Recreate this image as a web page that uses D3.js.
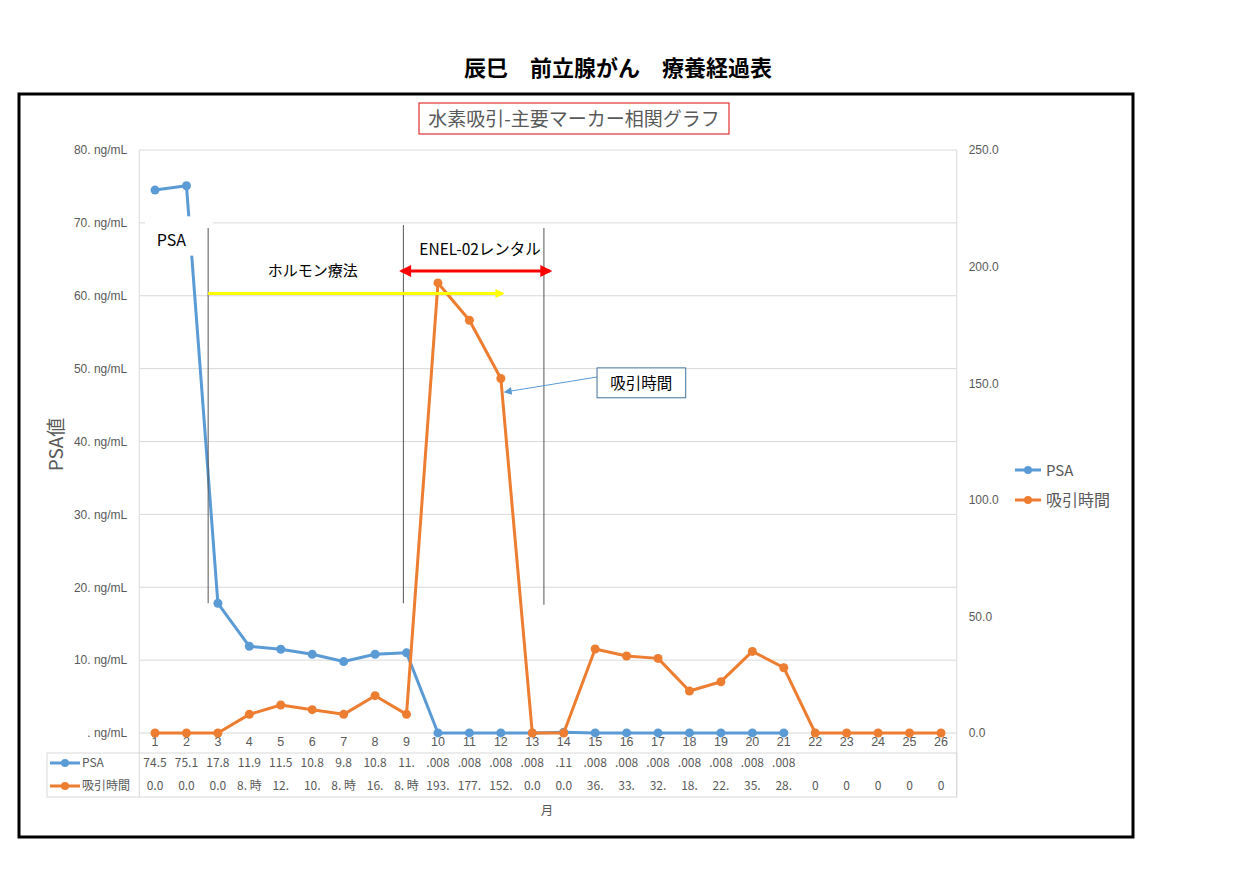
<!DOCTYPE html>
<html lang="ja">
<head>
  <meta charset="UTF-8">
  <title>辰巳 前立腺がん 療養経過表</title>
  <style>
    html, body {
      margin: 0;
      overflow: hidden;
      width: 100%;
      height: 100%;
      background: white;
    }
    svg {
      position: absolute;
      top: 0;
      left: 0;
      font-family: "Noto Sans CJK JP", "Noto Sans", sans-serif;
    }
  </style>
</head>
<body>
  <svg width="1240" height="877"></svg>
</body>
<script src="https://d3js.org/d3.v7.min.js"></script>
<script type="text/javascript">
  // data
  const months = d3.range(1, 27).map(String)
  const psa = [74.5, 75.1, 17.8, 11.9, 11.5, 10.8, 9.8, 10.8, 11.0, 0.008, 0.008, 0.008, 0.008, 0.11,
    0.008, 0.008, 0.008, 0.008, 0.008, 0.008, 0.008, null, null, null, null, null]
  const inhale = [0, 0, 0, 8, 12, 10, 8, 16, 8, 193, 177, 152, 0, 0, 36, 33, 32, 18, 22, 35, 28, 0, 0, 0, 0, 0]
  const psaLabels = ['74.5', '75.1', '17.8', '11.9', '11.5', '10.8', '9.8', '10.8', '11.', '.008', '.008', '.008',
    '.008', '.11', '.008', '.008', '.008', '.008', '.008', '.008', '.008', '', '', '', '', '']
  const inhaleLabels = ['0.0', '0.0', '0.0', '8. 時', '12.', '10.', '8. 時', '16.', '8. 時', '193.', '177.', '152.',
    '0.0', '0.0', '36.', '33.', '32.', '18.', '22.', '35.', '28.', '0', '0', '0', '0', '0']
  const leftTicks = [0, 10, 20, 30, 40, 50, 60, 70, 80]
  const rightTicks = [0, 50, 100, 150, 200, 250]

  const blue = '#5B9BD5'
  const orange = '#ED7D31'
  const gray = '#595959'
  const grid = '#D9D9D9'

  const svg = d3.select('svg')

  const plot = { left: 139.3, right: 956.7, top: 150, bottom: 733 }
  const x = d3.scaleBand().domain(months).range([plot.left, plot.right])
  const cx = m => x(m) + x.bandwidth() / 2
  const xi = i => cx(months[0]) + i * x.step()   // fractional index for annotations
  const yL = d3.scaleLinear().domain([0, 80]).range([plot.bottom, plot.top])
  const yR = d3.scaleLinear().domain([0, 250]).range([plot.bottom, plot.top])

  // page title
  svg.append('text')
    .attr('x', 618).attr('y', 76)
    .attr('text-anchor', 'middle')
    .attr('font-size', 22).attr('font-weight', 'bold')
    .attr('fill', '#000')
    .text('辰巳　前立腺がん　療養経過表')

  // outer frame
  svg.append('rect')
    .attr('x', 19).attr('y', 94).attr('width', 1114).attr('height', 743)
    .attr('fill', 'none').attr('stroke', '#000').attr('stroke-width', 3)

  // chart title
  const ct = svg.append('g')
  ct.append('rect')
    .attr('x', 419).attr('y', 103).attr('width', 310).attr('height', 31)
    .attr('fill', 'white').attr('stroke', '#E03030').attr('stroke-width', 1.2)
  ct.append('text')
    .attr('x', 574).attr('y', 126)
    .attr('text-anchor', 'middle')
    .attr('font-size', 19).attr('fill', gray)
    .text('水素吸引-主要マーカー相関グラフ')

  // gridlines
  svg.append('g')
    .selectAll('line')
    .data(leftTicks)
    .join('line')
    .attr('x1', plot.left).attr('x2', plot.right)
    .attr('y1', d => yL(d)).attr('y2', d => yL(d))
    .attr('stroke', grid).attr('stroke-width', 1)

  // left axis
  const leftAxis = d3.axisLeft(yL)
    .tickValues(leftTicks)
    .tickSize(0)
    .tickPadding(12)
    .tickFormat(d => d === 0 ? '. ng/mL' : d + '. ng/mL')
  const gl = svg.append('g').attr('transform', `translate(${plot.left},0)`).call(leftAxis)
  gl.select('.domain').remove()
  gl.selectAll('text').attr('font-size', 12).attr('fill', gray).attr('font-family', 'inherit')

  // right axis
  const rightAxis = d3.axisRight(yR)
    .tickValues(rightTicks)
    .tickSize(0)
    .tickPadding(12)
    .tickFormat(d => d.toFixed(1))
  const gr = svg.append('g').attr('transform', `translate(${plot.right},0)`).call(rightAxis)
  gr.select('.domain').remove()
  gr.selectAll('text').attr('font-size', 12).attr('fill', gray).attr('font-family', 'inherit')

  // axis title
  svg.append('text')
    .attr('transform', `translate(63,${(plot.top + plot.bottom) / 2 + 3}) rotate(-90)`)
    .attr('text-anchor', 'middle')
    .attr('font-size', 19).attr('fill', gray)
    .text('PSA値')

  // category labels
  const xAxis = d3.axisBottom(x).tickSize(0).tickPadding(4)
  const gx = svg.append('g').attr('transform', `translate(0,${plot.bottom})`).call(xAxis)
  gx.select('.domain').remove()
  gx.selectAll('text').attr('font-size', 12.5).attr('fill', gray).attr('font-family', 'inherit')

  // data table
  const table = { left: 47, top: 753, bottom: 797, sep: plot.left }
  const tg = svg.append('g')
  tg.append('rect')
    .attr('x', table.left).attr('y', table.top)
    .attr('width', plot.right - table.left).attr('height', table.bottom - table.top)
    .attr('fill', 'none').attr('stroke', grid)
  tg.append('line')
    .attr('x1', table.sep).attr('x2', table.sep)
    .attr('y1', plot.top).attr('y2', table.bottom)
    .attr('stroke', grid)
  tg.append('line')
    .attr('x1', plot.right).attr('x2', plot.right)
    .attr('y1', plot.top).attr('y2', table.bottom)
    .attr('stroke', grid)

  const rows = [
    { name: 'PSA', color: blue, labels: psaLabels, y: 763 },
    { name: '吸引時間', color: orange, labels: inhaleLabels, y: 786 }
  ]
  rows.forEach(r => {
    tg.append('line')
      .attr('x1', 50).attr('x2', 80).attr('y1', r.y).attr('y2', r.y)
      .attr('stroke', r.color).attr('stroke-width', 3)
    tg.append('circle').attr('cx', 65).attr('cy', r.y).attr('r', 4).attr('fill', r.color)
    tg.append('text')
      .attr('x', 82).attr('y', r.y + 4)
      .attr('font-size', 12).attr('fill', gray)
      .text(r.name)
    tg.selectAll(null)
      .data(r.labels)
      .join('text')
      .attr('x', (d, i) => cx(months[i]))
      .attr('y', r.y + 4)
      .attr('text-anchor', 'middle')
      .attr('font-size', 12).attr('fill', gray)
      .text(d => d)
  })

  svg.append('text')
    .attr('x', 547).attr('y', 815)
    .attr('text-anchor', 'middle')
    .attr('font-size', 12.5).attr('fill', gray)
    .text('月')

  // series
  const series = [
    { name: 'PSA', color: blue, values: psa, y: yL },
    { name: '吸引時間', color: orange, values: inhale, y: yR }
  ]
  series.forEach(s => {
    const pts = s.values.map((v, i) => ({ m: months[i], v: v })).filter(p => p.v !== null)
    const line = d3.line().x(p => cx(p.m)).y(p => s.y(p.v))
    const g = svg.append('g')
    g.append('path')
      .attr('d', line(pts))
      .attr('fill', 'none')
      .attr('stroke', s.color)
      .attr('stroke-width', 3)
      .attr('stroke-linejoin', 'round')
    g.selectAll('circle')
      .data(pts)
      .join('circle')
      .attr('cx', p => cx(p.m))
      .attr('cy', p => s.y(p.v))
      .attr('r', 4.5)
      .attr('fill', s.color)
  })

  // legend
  const lg = svg.append('g')
  series.forEach((s, i) => {
    const ly = 470 + i * 30
    lg.append('line')
      .attr('x1', 1015).attr('x2', 1041).attr('y1', ly).attr('y2', ly)
      .attr('stroke', s.color).attr('stroke-width', 3)
    lg.append('circle').attr('cx', 1028).attr('cy', ly).attr('r', 4).attr('fill', s.color)
    lg.append('text')
      .attr('x', 1046).attr('y', ly + 6)
      .attr('font-size', i === 0 ? 15 : 16).attr('fill', gray)
      .text(s.name)
  })

  // annotations
  const defs = svg.append('defs')
  const marker = (id, color, w, h) => {
    defs.append('marker')
      .attr('id', id)
      .attr('viewBox', '0 0 10 10')
      .attr('refX', 8).attr('refY', 5)
      .attr('markerWidth', w).attr('markerHeight', h)
      .attr('markerUnits', 'userSpaceOnUse')
      .attr('orient', 'auto-start-reverse')
      .append('path')
      .attr('d', 'M0,0 L10,5 L0,10 z')
      .attr('fill', color)
  }
  marker('arrRed', '#FF0000', 13, 12)
  marker('arrYel', '#FFFF00', 10, 9)
  marker('arrBlue', blue, 9, 8)

  const ag = svg.append('g')

  // label box covering the PSA line
  ag.append('rect')
    .attr('x', xi(-0.32)).attr('y', yL(70.9))
    .attr('width', xi(1.84) - xi(-0.32)).attr('height', yL(65.5) - yL(70.9))
    .attr('fill', 'white')
  ag.append('text')
    .attr('x', xi(0.52)).attr('y', yL(67.6) + 6)
    .attr('text-anchor', 'middle')
    .attr('font-size', 16).attr('fill', '#000')
    .text('PSA')

  // vertical period markers
  const vlines = [
    { i: 1.69, top: 69.3, bottom: 17.8 },
    { i: 7.9, top: 69.7, bottom: 17.8 },
    { i: 12.37, top: 69.3, bottom: 17.6 }
  ]
  ag.selectAll('.vl')
    .data(vlines)
    .join('line')
    .attr('class', 'vl')
    .attr('x1', d => xi(d.i)).attr('x2', d => xi(d.i))
    .attr('y1', d => yL(d.top)).attr('y2', d => yL(d.bottom))
    .attr('stroke', '#555').attr('stroke-width', 1)

  // hormone therapy arrow
  ag.append('line')
    .attr('x1', xi(1.69)).attr('x2', xi(11.06))
    .attr('y1', yL(60.3)).attr('y2', yL(60.3))
    .attr('stroke', '#FFFF00').attr('stroke-width', 3)
    .attr('marker-end', 'url(#arrYel)')
  ag.append('text')
    .attr('x', xi(5.02)).attr('y', yL(63.4) + 5)
    .attr('text-anchor', 'middle')
    .attr('font-size', 15).attr('fill', '#000')
    .text('ホルモン療法')

  // rental arrow
  ag.append('line')
    .attr('x1', xi(7.84)).attr('x2', xi(12.56))
    .attr('y1', yL(63.4)).attr('y2', yL(63.4))
    .attr('stroke', '#FF0000').attr('stroke-width', 3)
    .attr('marker-start', 'url(#arrRed)')
    .attr('marker-end', 'url(#arrRed)')
  ag.append('text')
    .attr('x', xi(10.34)).attr('y', yL(66.3) + 5)
    .attr('text-anchor', 'middle')
    .attr('font-size', 15.5).attr('fill', '#000')
    .text('ENEL-02レンタル')

  // callout
  ag.append('line')
    .attr('x1', xi(14.06)).attr('x2', xi(11.14))
    .attr('y1', yL(48.85)).attr('y2', yL(46.8))
    .attr('stroke', blue).attr('stroke-width', 1)
    .attr('marker-end', 'url(#arrBlue)')
  ag.append('rect')
    .attr('x', xi(14.06)).attr('y', yL(50.1))
    .attr('width', xi(16.88) - xi(14.06)).attr('height', yL(46.0) - yL(50.1))
    .attr('fill', 'white').attr('stroke', '#41719C').attr('stroke-width', 1)
  ag.append('text')
    .attr('x', xi(15.47)).attr('y', yL(48) + 5.5)
    .attr('text-anchor', 'middle')
    .attr('font-size', 15.5).attr('fill', '#000')
    .text('吸引時間')
</script>
</html>
